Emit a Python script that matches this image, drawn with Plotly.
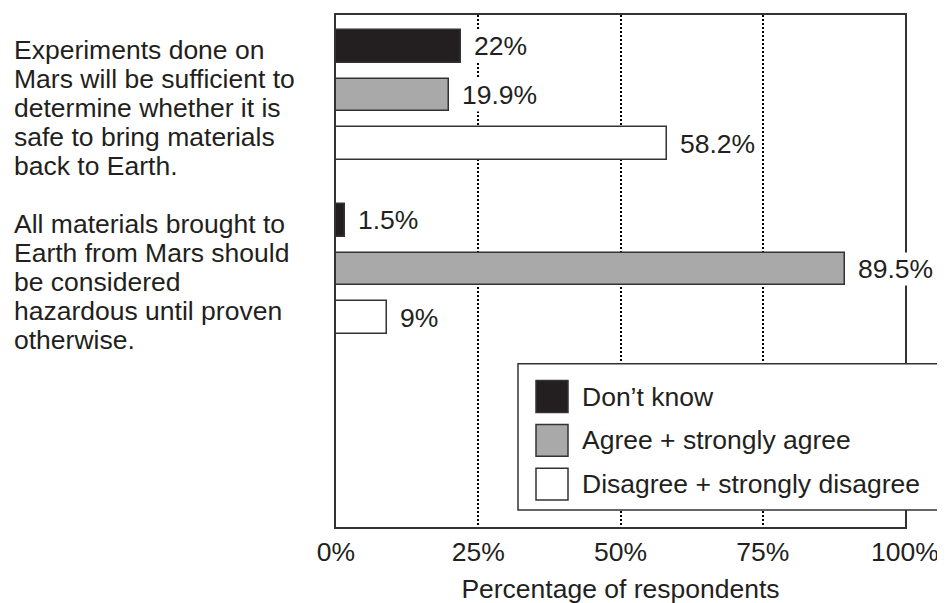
import plotly.graph_objects as go

# ---------------- data ----------------
question_lines = [
    ["Experiments done on", "Mars will be sufficient to", "determine whether it is",
     "safe to bring materials", "back to Earth."],
    ["All materials brought to", "Earth from Mars should", "be considered",
     "hazardous until proven", "otherwise."],
]
series_names = ["Don\u2019t know", "Agree + strongly agree", "Disagree + strongly disagree"]
dont_know = [22, 1.5]
agree = [19.9, 89.5]
disagree = [58.2, 9]
series_values = [dont_know, agree, disagree]
series_colors = ["#231f20", "#a9a9a9", "#ffffff"]
x_ticks = [0, 25, 50, 75, 100]
x_ticklabels = ["0%", "25%", "50%", "75%", "100%"]
x_title = "Percentage of respondents"

# ---------------- layout constants (window pixels) ----------------
W, H = 945, 603
OFF = 8                       # page body margin
PL, PR, PT, PB = 336, 905, 13, 527   # plot frame in window pixels
L, R, T, B = PL - OFF, W - (PR - OFF), PT - OFF, H - (PB - OFF)
PW, PH = PR - PL, PB - PT
GROUP_STEP = 3.58      # in bar-pitch units
BAR_W = 0.67
Y_RANGE = [9.887, -0.6455]
TXT = "#231f20"
FONT = "Arial, 'Liberation Sans', sans-serif"
FS = 26.5


def px_x(px):
    return (px - PL) / PW


def px_y(py):
    return (PB - py) / PH


fig = go.Figure()
for s, (name, vals, col) in enumerate(zip(series_names, series_values, series_colors)):
    ypos = [g * GROUP_STEP + s for g in range(len(vals))]
    fig.add_trace(go.Bar(
        x=vals, y=ypos, orientation="h", width=BAR_W, name=name,
        marker=dict(color=col, line=dict(color="#333333", width=1.5)),
        showlegend=False, hoverinfo="x",
    ))
    for v, yp in zip(vals, ypos):
        fig.add_annotation(
            x=v, y=yp, xref="x", yref="y", text=f"{v:g}%", showarrow=False,
            xanchor="left", yanchor="middle", xshift=11, bgcolor="white",
            borderpad=1, font=dict(family=FONT, size=FS, color=TXT),
        )

# question texts, one annotation per line
LINE_PX = 29
for g, lines in enumerate(question_lines):
    for i, line in enumerate(lines):
        fig.add_annotation(
            x=px_x(12), y=g * GROUP_STEP, xref="paper", yref="y", text=line,
            showarrow=False, xanchor="left", yanchor="middle",
            yshift=-(4 + i * LINE_PX), font=dict(family=FONT, size=FS, color=TXT),
        )

# manual legend (large square swatches)
fig.add_shape(type="rect", xref="paper", yref="paper",
              x0=px_x(518), x1=px_x(939), y0=px_y(510), y1=px_y(363),
              fillcolor="white", line=dict(color="#333333", width=1.5), layer="above")
for k, (name, col) in enumerate(zip(series_names, series_colors)):
    cy = 396 + k * 44
    fig.add_shape(type="rect", xref="paper", yref="paper",
                  x0=px_x(536), x1=px_x(568), y0=px_y(cy + 16), y1=px_y(cy - 16),
                  fillcolor=col, line=dict(color="#333333", width=1.5), layer="above")
    fig.add_annotation(x=px_x(580), y=px_y(cy), xref="paper", yref="paper",
                       text=name, showarrow=False, xanchor="left", yanchor="middle",
                       font=dict(family=FONT, size=FS, color=TXT))

fig.update_layout(
    width=W, height=H, margin=dict(l=L, r=R, t=T, b=B),
    paper_bgcolor="white", plot_bgcolor="white",
    font=dict(family=FONT, size=FS, color=TXT),
    bargap=0,
)
fig.update_xaxes(
    range=[0, 100], tickvals=x_ticks, ticktext=x_ticklabels,
    showgrid=True, gridcolor="#000000", gridwidth=2, griddash="2px,2px",
    zeroline=False, showline=True, linecolor="#333333", linewidth=1.5, mirror=True,
    ticks="", title=dict(text=x_title, standoff=14, font=dict(size=FS)),
    tickfont=dict(size=FS),
)
fig.update_yaxes(
    range=Y_RANGE, showticklabels=False, showgrid=False, zeroline=False,
    showline=True, linecolor="#333333", linewidth=1.5, mirror=True, ticks="",
)

fig.write_html("out.html")
